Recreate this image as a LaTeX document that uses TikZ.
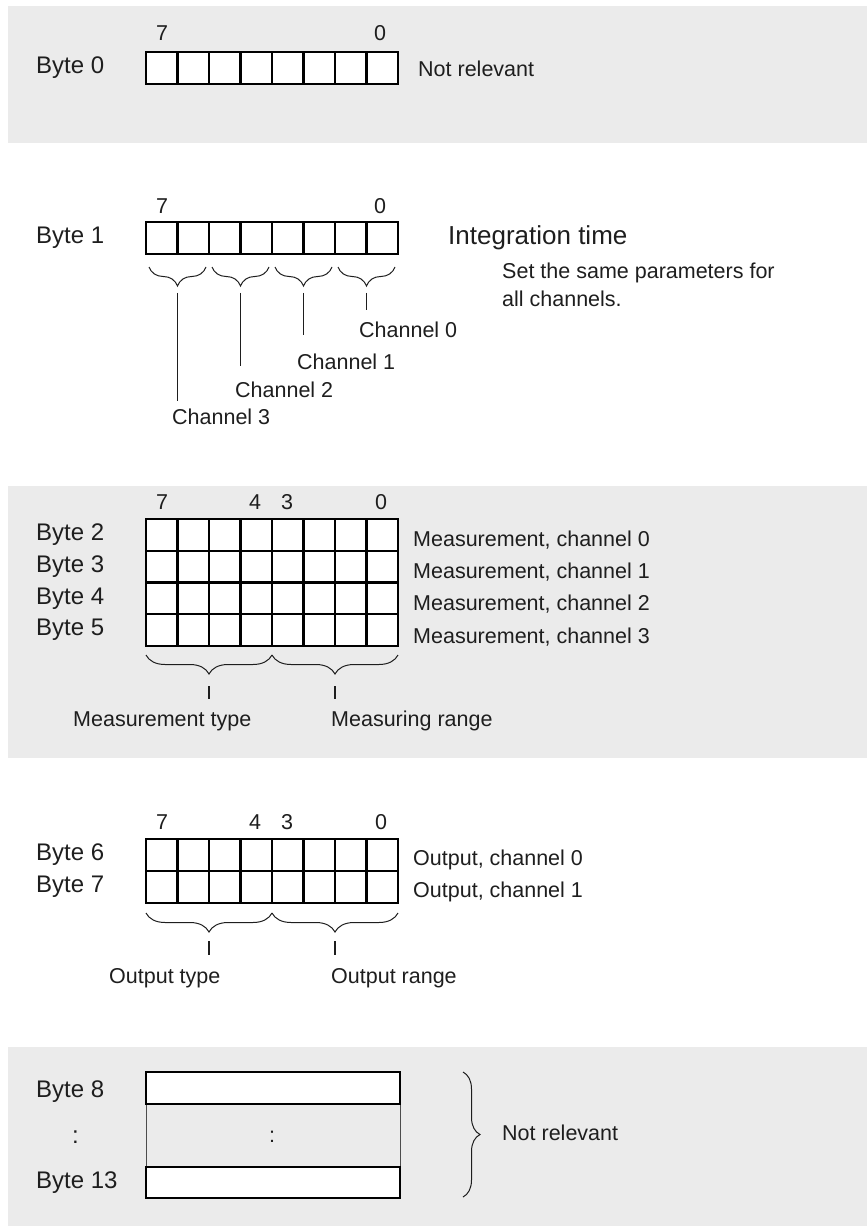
\documentclass[tikz,border=0pt]{standalone}
\usepackage{fontspec}
\setmainfont{Liberation Sans}
\usetikzlibrary{decorations.pathreplacing}
\definecolor{panelgray}{RGB}{235,235,235}
\definecolor{ink}{RGB}{30,30,30}
\tikzset{
  panel/.style={fill=panelgray, draw=none},
  cellbox/.style={draw=black, line width=2.2pt, fill=white},
  cellline/.style={draw=black, line width=2.2pt},
  thinside/.style={draw=black!70, line width=0.9pt},
  lbl/.style={inner sep=0pt, anchor=west, text=ink, font=\fontsize{21.5}{25}\selectfont},
  bytelbl/.style={inner sep=0pt, anchor=west, text=ink, font=\fontsize{24}{28}\selectfont},
  biglbl/.style={inner sep=0pt, anchor=west, text=ink, font=\fontsize{26}{30}\selectfont},
  bitnum/.style={inner sep=0pt, anchor=center, text=ink, font=\fontsize{21.5}{25}\selectfont},
  bracedn/.style={decorate, decoration={brace, mirror, amplitude=19pt}, draw=ink, line width=1pt},
  braceright/.style={decorate, decoration={brace, amplitude=17pt}, draw=ink, line width=1pt},
  tick/.style={draw=ink, line width=1.5pt}
}
\begin{document}
\begin{tikzpicture}[x=1pt,y=-1pt]
\useasboundingbox (0,0) rectangle (867,1230);
% panels
\fill[panel] (8,6) rectangle (867,143);
\fill[panel] (8,486) rectangle (867,758);
\fill[panel] (8,1047) rectangle (867,1226);

% ---------- Byte 0 ----------
\node[bitnum] (b0n7) at (162,33) {7};
\node[bitnum] (b0n0) at (380,33) {0};
\node[bytelbl] (b0) at (36,68) {Byte 0};
\draw[cellbox] (146,52) rectangle (398,84);
\foreach \i in {1,...,7} \draw[cellline] ({146+\i*31.5},52) -- ({146+\i*31.5},84);
\node[lbl] (b0nr) at (418,69) {Not relevant};

% ---------- Byte 1 ----------
\node[bitnum] (b1n7) at (162,206) {7};
\node[bitnum] (b1n0) at (380,206) {0};
\node[bytelbl] (b1) at (36,238) {Byte 1};
\draw[cellbox] (146,222) rectangle (398,254);
\foreach \i in {1,...,7} \draw[cellline] ({146+\i*31.5},222) -- ({146+\i*31.5},254);
\node[biglbl] (integ) at (448,238) {Integration time};
\node[lbl] (set1) at (502,273) {Set the same parameters for};
\node[lbl] (set2) at (502,299) {all channels.};

\coordinate (c3a) at (149,267); \coordinate (c3b) at (206,267);
\coordinate (c2a) at (212,267); \coordinate (c2b) at (269,267);
\coordinate (c1a) at (275,267); \coordinate (c1b) at (332,267);
\coordinate (c0a) at (338,267); \coordinate (c0b) at (395,267);
\draw[bracedn] (c3a) -- (c3b);
\draw[bracedn] (c2a) -- (c2b);
\draw[bracedn] (c1a) -- (c1b);
\draw[bracedn] (c0a) -- (c0b);

\node[lbl] (ch3) at (172,417) {Channel 3};
\node[lbl] (ch2) at (235,390) {Channel 2};
\node[lbl] (ch1) at (297,362) {Channel 1};
\node[lbl] (ch0) at (359,330) {Channel 0};
\coordinate (t3) at (177.5,293); \coordinate (e3) at (177.5,401);
\coordinate (t2) at (240.5,293); \coordinate (e2) at (240.5,366);
\coordinate (t1) at (303.5,293); \coordinate (e1) at (303.5,335);
\coordinate (t0) at (366.5,293); \coordinate (e0) at (366.5,310);
\draw[tick] (t3) -- (e3);
\draw[tick] (t2) -- (e2);
\draw[tick] (t1) -- (e1);
\draw[tick] (t0) -- (e0);

% ---------- Bytes 2-5 ----------
\node[bitnum] (m7) at (162,502) {7};
\node[bitnum] (m4) at (255,502) {4};
\node[bitnum] (m3) at (287,502) {3};
\node[bitnum] (m0) at (381,502) {0};
\node[bytelbl] (b2) at (36,535) {Byte 2};
\node[bytelbl] (b3) at (36,567) {Byte 3};
\node[bytelbl] (b4) at (36,599) {Byte 4};
\node[bytelbl] (b5) at (36,630) {Byte 5};
\draw[cellbox] (146,519) rectangle (398,646);
\foreach \i in {1,...,7} \draw[cellline] ({146+\i*31.5},519) -- ({146+\i*31.5},646);
\foreach \j in {1,2,3} \draw[cellline] (146,{519+\j*31.75}) -- (398,{519+\j*31.75});
\node[lbl] (mc0) at (413,540) {Measurement, channel 0};
\node[lbl] (mc1) at (413,572) {Measurement, channel 1};
\node[lbl] (mc2) at (413,604) {Measurement, channel 2};
\node[lbl] (mc3) at (413,637) {Measurement, channel 3};

\coordinate (mta) at (146,655); \coordinate (mtb) at (272,655);
\coordinate (mra) at (272,655); \coordinate (mrb) at (398,655);
\draw[bracedn] (mta) -- (mtb);
\draw[bracedn] (mra) -- (mrb);
\coordinate (mt1) at (209,686); \coordinate (mt2) at (209,699);
\coordinate (mr1) at (335,686); \coordinate (mr2) at (335,699);
\draw[tick] (mt1) -- (mt2);
\draw[tick] (mr1) -- (mr2);
\node[lbl] (mtype) at (73,721) {Measurement type};
\node[lbl] (mrange) at (331,721) {Measuring range};

% ---------- Bytes 6-7 ----------
\node[bitnum] (o7) at (162,822) {7};
\node[bitnum] (o4) at (255,822) {4};
\node[bitnum] (o3) at (287,822) {3};
\node[bitnum] (o0) at (381,822) {0};
\node[bytelbl] (b6) at (36,855) {Byte 6};
\node[bytelbl] (b7) at (36,887) {Byte 7};
\draw[cellbox] (146,839) rectangle (398,903);
\foreach \i in {1,...,7} \draw[cellline] ({146+\i*31.5},839) -- ({146+\i*31.5},903);
\draw[cellline] (146,871) -- (398,871);
\node[lbl] (oc0) at (413,860) {Output, channel 0};
\node[lbl] (oc1) at (413,892) {Output, channel 1};

\coordinate (ota) at (146,913); \coordinate (otb) at (272,913);
\coordinate (ora) at (272,913); \coordinate (orb) at (398,913);
\draw[bracedn] (ota) -- (otb);
\draw[bracedn] (ora) -- (orb);
\coordinate (ot1) at (209,941); \coordinate (ot2) at (209,955);
\coordinate (or1) at (335,941); \coordinate (or2) at (335,955);
\draw[tick] (ot1) -- (ot2);
\draw[tick] (or1) -- (or2);
\node[lbl] (otype) at (109,978) {Output type};
\node[lbl] (orange) at (331,978) {Output range};

% ---------- Bytes 8-13 ----------
\node[bytelbl] (b8) at (36,1092) {Byte 8};
\node[bytelbl] (bdots) at (72,1137) {:};
\node[bytelbl] (b13) at (36,1183) {Byte 13};
\draw[thinside] (146,1104) -- (146,1167);
\draw[thinside] (400,1104) -- (400,1167);
\draw[cellbox] (146,1072) rectangle (400,1104);
\draw[cellbox] (146,1167) rectangle (400,1198);
\node[bitnum] (mdots) at (272,1137) {:};
\coordinate (nra) at (463,1072); \coordinate (nrb) at (463,1197);
\draw[braceright] (nra) -- (nrb);
\node[lbl] (nr) at (502,1133) {Not relevant};
\end{tikzpicture}
\end{document}
